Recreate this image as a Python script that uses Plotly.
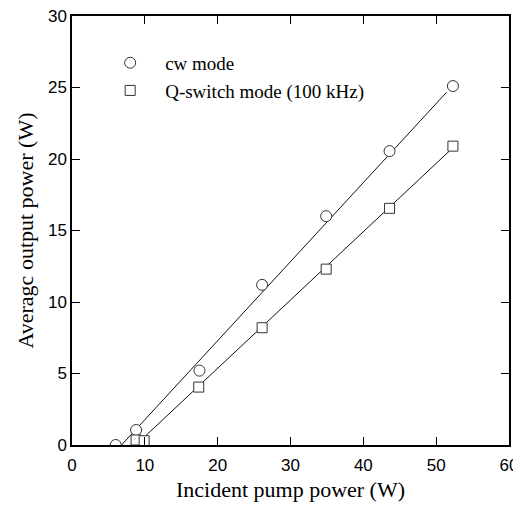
import plotly.graph_objects as go

# Data
cw_x = [6.0, 8.8, 17.5, 26.1, 34.9, 43.6, 52.3]
cw_y = [0.0, 1.05, 5.2, 11.2, 16.0, 20.55, 25.1]
qs_x = [8.8, 9.9, 17.4, 26.1, 34.9, 43.6, 52.3]
qs_y = [0.35, 0.3, 4.05, 8.2, 12.3, 16.55, 20.9]

# Linear fit lines drawn in the figure (end points)
cw_fit_x = [6.8, 51.4]
cw_fit_y = [0.0, 24.65]
qs_fit_x = [9.6, 51.8]
qs_fit_y = [0.4, 20.55]

x_ticks = [0, 10, 20, 30, 40, 50, 60]
y_ticks = [0, 5, 10, 15, 20, 25, 30]

fig = go.Figure()
fig.add_trace(go.Scatter(x=cw_fit_x, y=cw_fit_y, mode="lines",
                         line=dict(color="#111", width=1), showlegend=False, hoverinfo="skip"))
fig.add_trace(go.Scatter(x=qs_fit_x, y=qs_fit_y, mode="lines",
                         line=dict(color="#111", width=1), showlegend=False, hoverinfo="skip"))
fig.add_trace(go.Scatter(x=cw_x, y=cw_y, mode="markers", name="cw mode",
                         marker=dict(symbol="circle", size=11, color="white",
                                     line=dict(color="#333", width=1))))
fig.add_trace(go.Scatter(x=qs_x, y=qs_y, mode="markers", name="Q-switch mode (100 kHz)",
                         marker=dict(symbol="square", size=10, color="white",
                                     line=dict(color="#333", width=1))))

axis_common = dict(showline=True, linecolor="black", linewidth=1.5, mirror="ticks",
                   ticks="inside", ticklen=8, tickwidth=1, tickcolor="black",
                   showgrid=False, zeroline=False, automargin=False,
                   ticklabeloverflow="allow",
                   tickfont=dict(family="Liberation Sans, Arial, sans-serif", size=17, color="black"))

title_font = dict(family="Liberation Serif, Times New Roman, serif", size=22, color="black")

fig.update_layout(
    width=513, height=494,
    margin=dict(l=64, r=12, t=8, b=57),
    paper_bgcolor="white", plot_bgcolor="white",
    xaxis=dict(range=[0, 60], tickvals=x_ticks, ticklabelstandoff=4,
               title=dict(text="Incident pump power (W)", standoff=13, font=title_font),
               **axis_common),
    yaxis=dict(range=[0, 30], tickvals=y_ticks,
               title=dict(text="Averagc output power (W)", standoff=8, font=title_font),
               **axis_common),
    legend=dict(x=0.053, y=0.935, xanchor="left", yanchor="top", bgcolor="rgba(0,0,0,0)",
                itemwidth=60,
                font=dict(family="Liberation Serif, Times New Roman, serif", size=19, color="black")),
)

fig.write_html("out.html")
